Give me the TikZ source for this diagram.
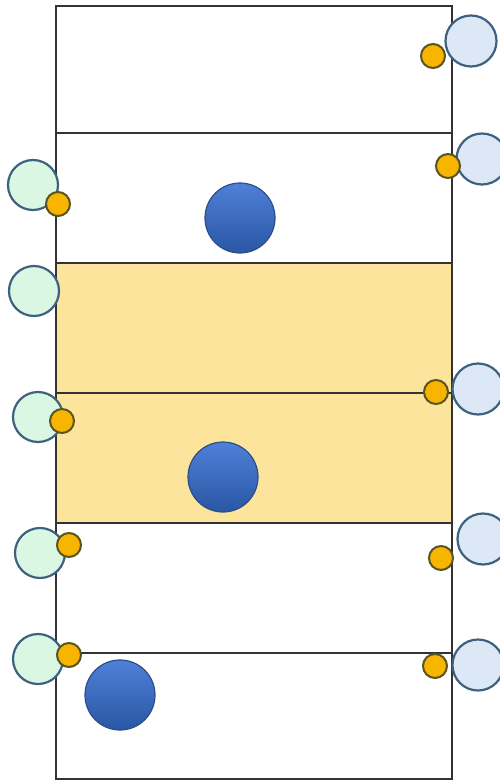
\documentclass[tikz,border=0pt]{standalone}
\begin{document}
\begin{tikzpicture}[x=1pt,y=-1pt,
  frame/.style={draw=black!80,line width=1.6pt},
  band/.style={fill=bandyellow},
  greenball/.style={circle,draw=rimblue,line width=2.2pt,fill=mint,minimum size=50pt,inner sep=0pt},
  paleball/.style={circle,draw=rimblue,line width=2.2pt,fill=paleblue,minimum size=51pt,inner sep=0pt},
  goldball/.style={circle,draw=olive!80!black,line width=2pt,fill=gold,minimum size=24pt,inner sep=0pt},
  bigball/.style={circle,draw=deepblue,line width=1.2pt,top color=topblue,bottom color=botblue,minimum size=70pt,inner sep=0pt}]
\definecolor{bandyellow}{HTML}{FDE49C}
\definecolor{mint}{HTML}{D9F7E3}
\definecolor{paleblue}{HTML}{DCE8F6}
\definecolor{rimblue}{HTML}{3E6180}
\definecolor{gold}{HTML}{F7B500}
\definecolor{olive}{HTML}{6E6A2A}
\definecolor{topblue}{HTML}{4F80D8}
\definecolor{botblue}{HTML}{2A57A4}
\definecolor{deepblue}{HTML}{2B4E88}
\useasboundingbox (0,0) rectangle (499,781);
\fill[white] (0,0) rectangle (499,781);
% yellow middle band
\fill[band] (56,263) rectangle (452,523);
% outer frame and row dividers
\draw[frame] (56,6) rectangle (452,779);
\foreach \yy in {133,263,393,523,653}
  \draw[frame] (56,\yy) -- (452,\yy);
% blue balls inside the rows
\node[bigball] (b1) at (240,218) {};
\node[bigball] (b2) at (223,477) {};
\node[bigball] (b3) at (120,695) {};
% left side balls
\node[greenball] (l1) at (33,185) {};
\node[greenball] (l2) at (34,291) {};
\node[greenball] (l3) at (38,417) {};
\node[greenball] (l4) at (40,553) {};
\node[greenball] (l5) at (38,659) {};
\node[goldball] (lg1) at (58,204) {};
\node[goldball] (lg3) at (62,421) {};
\node[goldball] (lg4) at (69,545) {};
\node[goldball] (lg5) at (69,655) {};
% right side balls
\node[paleball] (r1) at (471,41) {};
\node[paleball] (r2) at (482,159) {};
\node[paleball] (r3) at (478,389) {};
\node[paleball] (r4) at (483,539) {};
\node[paleball] (r5) at (478,665) {};
\node[goldball] (rg1) at (433,56) {};
\node[goldball] (rg2) at (448,166) {};
\node[goldball] (rg3) at (436,392) {};
\node[goldball] (rg4) at (441,558) {};
\node[goldball] (rg5) at (435,666) {};
\end{tikzpicture}
\end{document}
